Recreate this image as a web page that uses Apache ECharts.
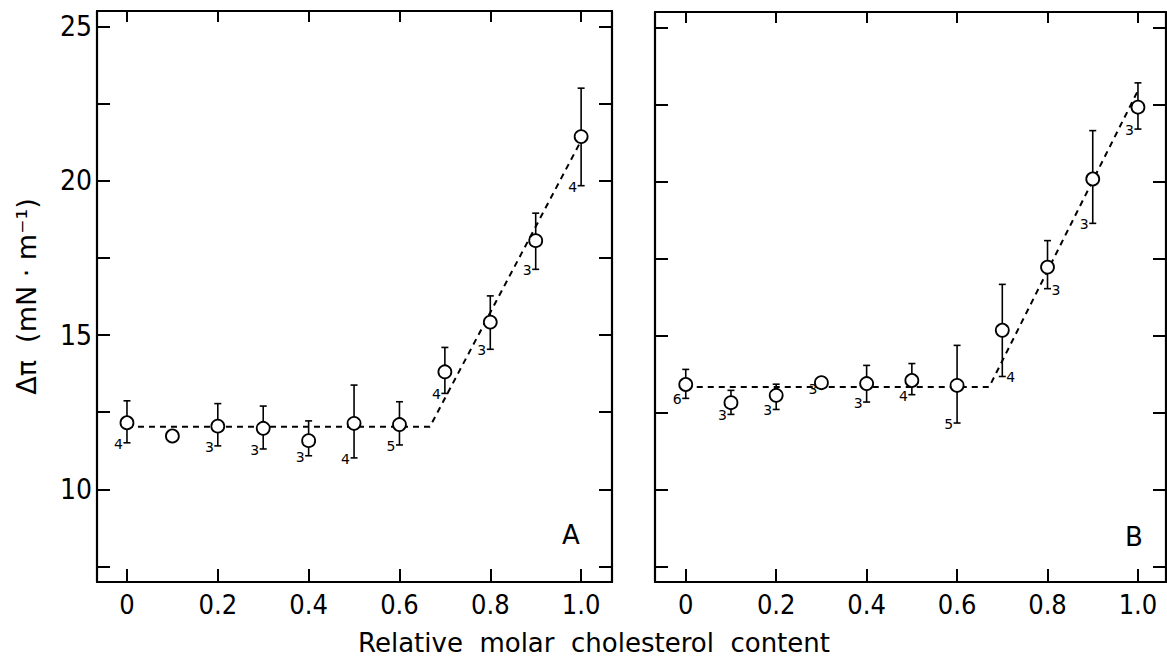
<!DOCTYPE html>
<html><head><meta charset="utf-8">
<script src="https://cdn.jsdelivr.net/npm/echarts@6/dist/echarts.min.js"></script>
<style>html,body{margin:0;padding:0;background:#fff}#c{width:1167px;height:657px}</style>
</head><body><div id="c"></div>
<script>
// ---- data ----
const xValues = [0, 0.1, 0.2, 0.3, 0.4, 0.5, 0.6, 0.7, 0.8, 0.9, 1.0];
const meanA = [12.16, 11.73, 12.05, 11.98, 11.58, 12.14, 12.10, 13.81, 15.42, 18.06, 21.43];
const lowA  = [11.51, null, 11.41, 11.31, 11.09, 11.02, 11.44, 13.11, 14.54, 17.13, 19.84];
const highA = [12.87, null, 12.78, 12.70, 12.22, 13.38, 12.84, 14.60, 16.27, 18.95, 23.00];
const nA    = [4, null, 3, 3, 3, 4, 5, 4, 3, 3, 4];
const sideA = ['L', 'L', 'L', 'L', 'L', 'L', 'L', 'L', 'L', 'L', 'L'];
const meanB = [13.41, 12.82, 13.06, 13.47, 13.44, 13.54, 13.38, 15.17, 17.22, 20.08, 22.41];
const lowB  = [12.96, 12.44, 12.60, 13.31, 12.84, 13.08, 12.16, 13.67, 16.52, 18.64, 21.70];
const highB = [13.90, 13.22, 13.42, 13.65, 14.03, 14.09, 14.68, 16.66, 18.08, 21.65, 23.20];
const nB    = [6, 3, 3, 3, 3, 4, 5, 4, 3, 3, 3];
const sideB = ['L', 'L', 'L', 'L', 'L', 'L', 'L', 'R', 'R', 'L', 'L'];
const fitAx = [0, 0.667, 1.0];
const fitAy = [12.03, 12.03, 21.3];
const fitBx = [0, 0.671, 1.0];
const fitBy = [13.33, 13.33, 22.95];
const xTicks = [0, 0.2, 0.4, 0.6, 0.8, 1.0];
const yTicks = [7.5, 10, 12.5, 15, 17.5, 20, 22.5, 25];
const yLabels = [10, 15, 20, 25];
const panelNames = ['A', 'B'];
const xTitle = 'Relative  molar  cholesterol  content';
const yTitle = 'Δπ  (mN · m⁻¹)';

// ---- chart ----
const FONT_NUM = '"Liberation Sans Narrow","DejaVu Sans Condensed","DejaVu Sans",sans-serif';
const FONT = '"DejaVu Sans",sans-serif';
const chart = echarts.init(document.getElementById('c'), null, {renderer: 'svg'});

const grids = [
  {left: 97, top: 11, width: 515, height: 571},
  {left: 655, top: 12, width: 511, height: 570}
];
const xRanges = [[-0.066, 1.068], [-0.068, 1.062]];
const axisLine = {show: true, onZero: false, lineStyle: {color: '#000', width: 2.2}};
const tickStyle = {color: '#000', width: 2};

const xAxes = [], yAxes = [];
[0, 1].forEach(g => {
  ['bottom', 'top'].forEach(pos => {
    xAxes.push({
      type: 'value', gridIndex: g, position: pos, min: xRanges[g][0], max: xRanges[g][1],
      axisLine: axisLine, splitLine: {show: false},
      axisTick: {show: true, inside: true, length: pos === 'bottom' ? 13 : 11, lineStyle: tickStyle, customValues: xTicks},
      axisLabel: pos === 'bottom' ? {
        show: true, customValues: xTicks, margin: 9, color: '#000',
        fontFamily: FONT_NUM, fontSize: 27,
        formatter: v => (v === 0 ? '0' : v.toFixed(1))
      } : {show: false}
    });
  });
  ['left', 'right'].forEach(pos => {
    const showLab = (g === 0 && pos === 'left');
    yAxes.push({
      type: 'value', gridIndex: g, position: pos, min: 7, max: 25.5,
      axisLine: axisLine, splitLine: {show: false},
      axisTick: {show: true, inside: true, length: 13, lineStyle: tickStyle, customValues: yTicks},
      axisLabel: showLab ? {show: true, customValues: yLabels, margin: 5, color: '#000', fontFamily: FONT_NUM, fontSize: 28} : {show: false},
      name: showLab ? yTitle : '',
      nameLocation: 'middle', nameGap: 57, nameRotate: 90,
      nameTextStyle: {color: '#000', fontFamily: FONT, fontSize: 27}
    });
  });
});

function errRender(params, api) {
  const x = api.value(0), lo = api.value(1), hi = api.value(2), n = api.value(3), side = api.value(4);
  const children = [];
  const p1 = api.coord([x, hi]), p2 = api.coord([x, lo]);
  const cw = 3.5;
  const st = {stroke: '#000', lineWidth: 1.6};
  children.push({type: 'line', shape: {x1: p1[0], y1: p1[1], x2: p2[0], y2: p2[1]}, style: st});
  children.push({type: 'line', shape: {x1: p1[0] - cw, y1: p1[1], x2: p1[0] + cw, y2: p1[1]}, style: st});
  children.push({type: 'line', shape: {x1: p2[0] - cw, y1: p2[1], x2: p2[0] + cw, y2: p2[1]}, style: st});
  if (!isNaN(n)) {
    children.push({
      type: 'text', x: side === 1 ? p2[0] + 4 : p2[0] - 4, y: p2[1] + 1,
      style: {text: String(n), fill: '#000', font: '14px ' + FONT, align: side === 1 ? 'left' : 'right', verticalAlign: 'middle'}
    });
  }
  return {type: 'group', children};
}

function errData(lows, highs, counts, sides) {
  const out = [];
  xValues.forEach((x, i) => {
    if (lows[i] == null) return;
    out.push([x, lows[i], highs[i], counts[i], sides[i] === 'R' ? 1 : 0]);
  });
  return out;
}

const series = [];
const sets = [
  {fx: fitAx, fy: fitAy, mean: meanA, low: lowA, high: highA, n: nA, side: sideA},
  {fx: fitBx, fy: fitBy, mean: meanB, low: lowB, high: highB, n: nB, side: sideB}
];
sets.forEach((s, g) => {
  series.push({
    type: 'line', xAxisIndex: g * 2, yAxisIndex: g * 2, data: s.fx.map((x, i) => [x, s.fy[i]]),
    symbol: 'none', silent: true, z: 1,
    lineStyle: {color: '#000', width: 2, type: [6, 5]}
  });
  series.push({
    type: 'custom', xAxisIndex: g * 2, yAxisIndex: g * 2, renderItem: errRender,
    data: errData(s.low, s.high, s.n, s.side), z: 2, silent: true
  });
  series.push({
    type: 'scatter', xAxisIndex: g * 2, yAxisIndex: g * 2, data: xValues.map((x, i) => [x, s.mean[i]]),
    symbol: 'circle', symbolSize: 13, z: 3, silent: true,
    itemStyle: {color: '#fff', borderColor: '#000', borderWidth: 1.8, opacity: 1}
  });
});

chart.setOption({
  animation: false,
  backgroundColor: '#fff',
  grid: grids,
  xAxis: xAxes,
  yAxis: yAxes,
  series: series,
  graphic: [
    {type: 'text', x: 594, y: 643, style: {text: xTitle, fill: '#000', font: '26px ' + FONT, align: 'center', verticalAlign: 'middle'}},
    {type: 'text', x: 571, y: 535, style: {text: panelNames[0], fill: '#000', font: '26px ' + FONT, align: 'center', verticalAlign: 'middle'}},
    {type: 'text', x: 1134, y: 537, style: {text: panelNames[1], fill: '#000', font: '26px ' + FONT, align: 'center', verticalAlign: 'middle'}}
  ]
});
</script>
</body></html>
